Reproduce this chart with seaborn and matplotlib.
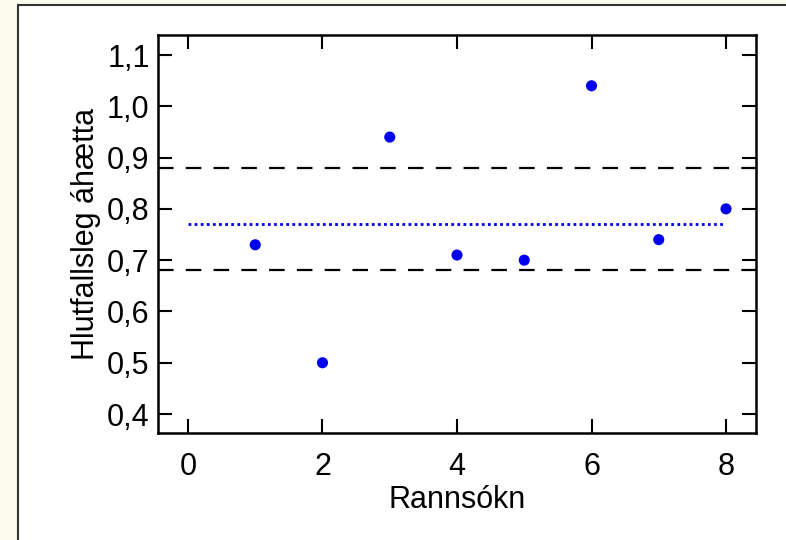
import numpy as np
import pandas as pd
import matplotlib
matplotlib.use("Agg")
import matplotlib.pyplot as plt
import seaborn as sns
from matplotlib.patches import Rectangle
from matplotlib.ticker import FuncFormatter

# gögn
rannsokn = [1, 2, 3, 4, 5, 6, 7, 8]
ahaetta = [0.73, 0.50, 0.94, 0.71, 0.70, 1.04, 0.74, 0.80]
medaltal = 0.77
oryggismork = [0.68, 0.88]
x_ticks = [0, 2, 4, 6, 8]
y_ticks = [0.4, 0.5, 0.6, 0.7, 0.8, 0.9, 1.0, 1.1]

sns.set_theme(style="white")
plt.rcParams['font.family'] = ['Liberation Sans', 'DejaVu Sans']
plt.rcParams['text.color'] = 'black'
plt.rcParams['axes.labelcolor'] = 'black'

fig = plt.figure(figsize=(7.86, 5.4), dpi=100)
fig.patch.set_facecolor("#fbfbee")
# hvítur rammi á bak við
fig.add_artist(Rectangle((18 / 786, -0.1), 1.1, 1.1 - 5 / 540, transform=fig.transFigure,
                         facecolor="white", edgecolor="#333333", linewidth=1.5, zorder=-10))

ax = fig.add_axes([158 / 786, 1 - 433 / 540, 598 / 786, 398 / 540])
ax.set_facecolor("white")

df = pd.DataFrame({"Rannsókn": rannsokn, "Áhætta": ahaetta})
sns.scatterplot(data=df, x="Rannsókn", y="Áhætta", ax=ax, color="#0000ee",
                s=64, edgecolor="none", zorder=3)

for v in oryggismork:
    ax.axhline(v, color="black", linestyle=(0, (7, 5.5)), linewidth=1.6, zorder=2)
ax.plot([0, 7.95], [medaltal, medaltal], color="#0000ee", linestyle=(0, (1, 1.2)),
        linewidth=2, zorder=2)

ax.set_xlim(-0.446, 8.446)
ax.set_ylim(0.363, 1.139)
ax.set_xticks(x_ticks)
ax.set_yticks(y_ticks)
ax.yaxis.set_major_formatter(FuncFormatter(lambda v, p: f"{v:.1f}".replace(".", ",")))
ax.tick_params(direction="in", length=10, width=1.5, top=True, right=True,
               bottom=True, left=True, labelsize=22, colors="black")
ax.tick_params(axis="x", pad=14)
ax.tick_params(axis="y", pad=6)
for s in ax.spines.values():
    s.set_color("black")
    s.set_linewidth(1.8)

ax.set_xlabel("Rannsókn", fontsize=22, labelpad=2, color="black")
ax.set_ylabel("Hlutfallsleg áhætta", fontsize=22, labelpad=4, color="black")

fig.savefig("out.png", dpi=100, facecolor=fig.get_facecolor())
